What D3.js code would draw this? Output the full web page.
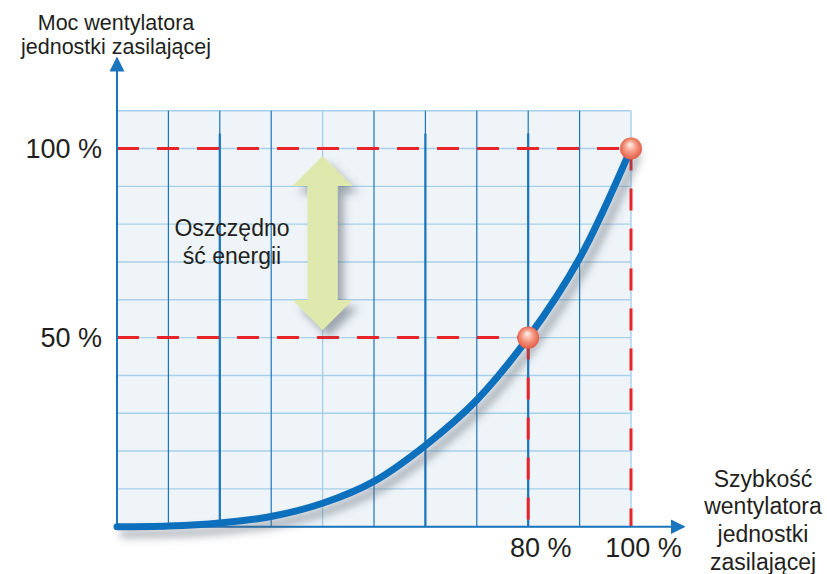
<!DOCTYPE html>
<html>
<head>
<meta charset="utf-8">
<script src="https://cdn.jsdelivr.net/npm/d3@7"></script>
<style>
  html, body { margin: 0; padding: 0; background: #ffffff; }
  svg { display: block; }
  text { font-family: "Liberation Sans", Arial, Helvetica, sans-serif; fill: #231f20; }
</style>
</head>
<body>
<svg id="chart" width="827" height="574"></svg>
<script>
// ---- data ----
const speed = [0, 10, 20, 30, 40, 50, 60, 70, 80, 90, 100];        // fan speed, %
const power = [0, 0.2, 1, 2.7, 6.2, 12, 21.5, 33.5, 50, 71, 100];   // fan power, %
const markedSpeed = [80, 100];
const markedPower = [50, 100];
const xTickValues = [80, 100];
const yTickValues = [50, 100];
const gridX = [0, 10, 20, 30, 40, 50, 60, 70, 80, 90, 100];
const gridY = [0, 10, 20, 30, 40, 50, 60, 70, 80, 90, 100, 110];
const lightGridX = [40, 100];          // vertical grid lines drawn light
const heavyGridX = [20, 60, 80];        // vertical grid lines drawn heavy
const arrowAt = [40];                   // x of savings arrow
const arrowSpan = [52, 98];             // y range of savings arrow
const yTitle = ["Moc wentylatora", "jednostki zasilającej"];
const xTitle = ["Szybkość", "wentylatora", "jednostki", "zasilającej"];
const noteText = ["Oszczędno", "ść energii"];

// ---- layout ----
const svg = d3.select("#chart");
const x = d3.scaleLinear().domain([0, 100]).range([117, 631]);
const y = d3.scaleLinear().domain([0, 110]).range([526.7, 110.7]);

const defs = svg.append("defs");
const sh = defs.append("filter").attr("id", "shadow")
  .attr("x", "-30%").attr("y", "-30%").attr("width", "160%").attr("height", "160%");
sh.append("feGaussianBlur").attr("in", "SourceAlpha").attr("stdDeviation", 4).attr("result", "b");
sh.append("feOffset").attr("in", "b").attr("dx", 6).attr("dy", 7).attr("result", "o");
sh.append("feFlood").attr("flood-color", "#5a6470").attr("flood-opacity", 0.55).attr("result", "c");
sh.append("feComposite").attr("in", "c").attr("in2", "o").attr("operator", "in").attr("result", "s");
const m = sh.append("feMerge");
m.append("feMergeNode").attr("in", "s");
m.append("feMergeNode").attr("in", "SourceGraphic");

const grad = defs.append("radialGradient").attr("id", "ball")
  .attr("cx", "50%").attr("cy", "50%").attr("r", "55%").attr("fx", "45%").attr("fy", "30%");
grad.append("stop").attr("offset", "0%").attr("stop-color", "#fff4ee");
grad.append("stop").attr("offset", "45%").attr("stop-color", "#f6a08a");
grad.append("stop").attr("offset", "100%").attr("stop-color", "#e2533c");

const mk = (id, color) => defs.append("marker").attr("id", id)
  .attr("viewBox", "0 0 10 10").attr("refX", 9).attr("refY", 5)
  .attr("markerWidth", 15).attr("markerHeight", 15).attr("markerUnits", "userSpaceOnUse")
  .attr("orient", "auto")
  .append("path").attr("d", "M0,0 L10,5 L0,10 Z").attr("fill", color);
mk("arr", "#1a75bc");

// plot background
svg.append("rect")
  .attr("x", x(0)).attr("y", y(110))
  .attr("width", x(100) - x(0)).attr("height", y(0) - y(110))
  .attr("fill", "#eef4f8");

// horizontal grid
svg.append("g").selectAll("line").data(gridY).join("line")
  .attr("x1", x(0)).attr("x2", x(100))
  .attr("y1", d => y(d)).attr("y2", d => y(d))
  .attr("stroke", "#a8d0ea").attr("stroke-width", 1.4);

// vertical grid
svg.append("g").selectAll("line").data(gridX.slice(1)).join("line")
  .attr("x1", d => x(d)).attr("x2", d => x(d))
  .attr("y1", y(110)).attr("y2", y(0))
  .attr("stroke", d => lightGridX.includes(d) ? "#a8d0ea" : "#1a75bc")
  .attr("stroke-width", d => lightGridX.includes(d) ? 1.4 : 1.2);
svg.append("g").selectAll("line").data(heavyGridX).join("line")
  .attr("x1", d => x(d)).attr("x2", d => x(d))
  .attr("y1", y(104)).attr("y2", y(0))
  .attr("stroke", "#1a75bc").attr("stroke-width", 2.2);

// dashed reference lines
const dash = svg.append("g").attr("stroke", "#e8232a").attr("stroke-width", 3)
  .attr("stroke-dasharray", "22 18").attr("fill", "none");
markedSpeed.forEach((s, i) => {
  const p = markedPower[i];
  dash.append("line").attr("x1", x(0)).attr("x2", x(s)).attr("y1", y(p)).attr("y2", y(p));
  dash.append("line").attr("x1", x(s)).attr("x2", x(s)).attr("y1", y(p)).attr("y2", y(0));
});

// axes lines with arrows
svg.append("line").attr("x1", x(0)).attr("x2", x(0)).attr("y1", y(0)).attr("y2", 58)
  .attr("stroke", "#1a75bc").attr("stroke-width", 2).attr("marker-end", "url(#arr)");
svg.append("line").attr("x1", x(0)).attr("x2", 684).attr("y1", y(0)).attr("y2", y(0))
  .attr("stroke", "#1a75bc").attr("stroke-width", 2).attr("marker-end", "url(#arr)");

// savings double arrow
const ax = x(arrowAt[0]);
const yt = y(arrowSpan[1]), yb = y(arrowSpan[0]);
const hw = 30, sw = 15, hh = 30;
svg.append("path")
  .attr("d", `M${ax},${yt} L${ax + hw},${yt + hh} L${ax + sw},${yt + hh} L${ax + sw},${yb - hh}
    L${ax + hw},${yb - hh} L${ax},${yb} L${ax - hw},${yb - hh} L${ax - sw},${yb - hh}
    L${ax - sw},${yt + hh} L${ax - hw},${yt + hh} Z`)
  .attr("fill", "#dfe9ad").attr("filter", "url(#shadow)");

// note text
svg.append("text").attr("text-anchor", "middle").attr("font-size", 23)
  .selectAll("tspan").data(noteText).join("tspan")
  .attr("x", 232).attr("y", (d, i) => 235.5 + i * 28.5).text(d => d);

// curve
const line = d3.line().x((d, i) => x(speed[i])).y(d => y(d)).curve(d3.curveCatmullRom.alpha(0.5));
svg.append("path").datum(power)
  .attr("d", line).attr("fill", "none")
  .attr("stroke", "#0a6fbd").attr("stroke-width", 7).attr("stroke-linecap", "round")
  .attr("filter", "url(#shadow)");

// marked points
svg.append("g").selectAll("circle").data(markedSpeed).join("circle")
  .attr("cx", d => x(d)).attr("cy", (d, i) => y(markedPower[i])).attr("r", 11)
  .attr("fill", "url(#ball)");

// tick labels via d3 axes
const xAxis = d3.axisBottom(x).tickValues(xTickValues).tickFormat(d => d + " %")
  .tickSize(0).tickPadding(11);
const gx = svg.append("g").attr("transform", `translate(0,${y(0)})`).call(xAxis);
gx.select(".domain").remove();
gx.selectAll("text").attr("font-size", 27).attr("dx", 12).attr("fill", "#231f20")
  .attr("font-family", "'Liberation Sans', Arial, sans-serif");

const yAxis = d3.axisLeft(y).tickValues(yTickValues).tickFormat(d => d + " %")
  .tickSize(0).tickPadding(15);
const gy = svg.append("g").attr("transform", `translate(${x(0)},0)`).call(yAxis);
gy.select(".domain").remove();
gy.selectAll("text").attr("font-size", 27).attr("fill", "#231f20")
  .attr("font-family", "'Liberation Sans', Arial, sans-serif");

// axis titles
svg.append("text").attr("text-anchor", "middle").attr("font-size", 21.5)
  .selectAll("tspan").data(yTitle).join("tspan")
  .attr("x", 116).attr("y", (d, i) => 29.5 + i * 24.5).text(d => d);
svg.append("text").attr("text-anchor", "middle").attr("font-size", 23)
  .selectAll("tspan").data(xTitle).join("tspan")
  .attr("x", 763).attr("y", (d, i) => 486.5 + i * 27.8).text(d => d);
</script>
</body>
</html>
